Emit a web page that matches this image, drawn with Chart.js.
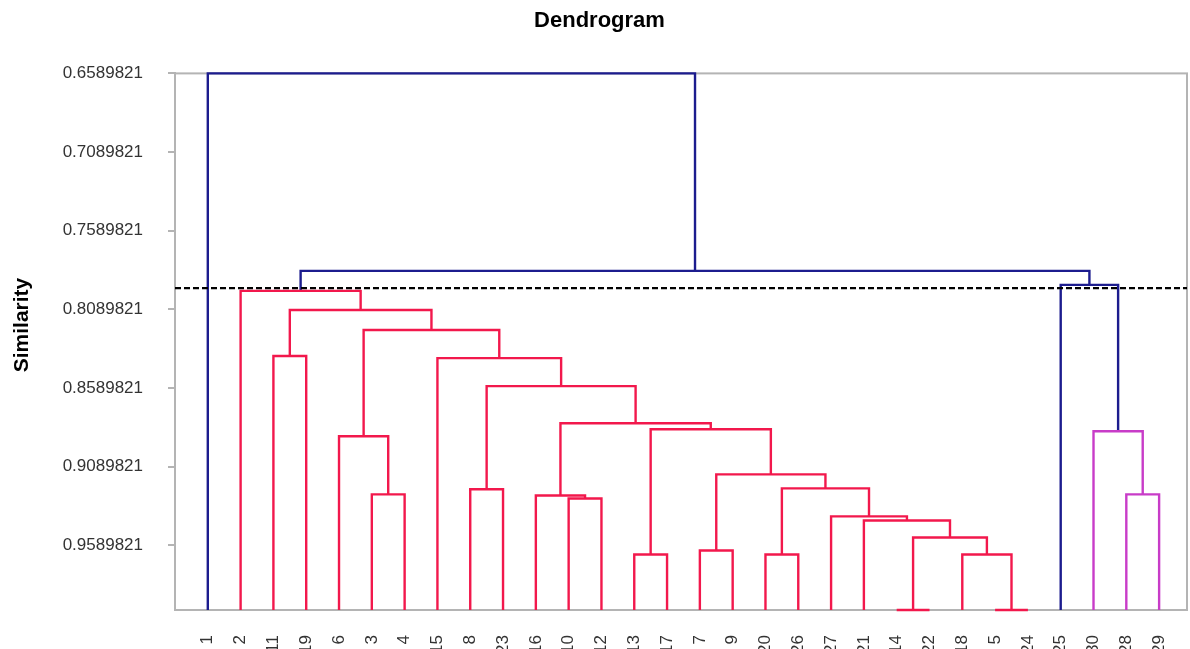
<!DOCTYPE html>
<html>
<head>
<meta charset="utf-8">
<script src="https://cdn.jsdelivr.net/npm/chart.js@4"></script>
<style>
	html, body { margin: 0; padding: 0; background: #fff; overflow: hidden; }
	canvas { display: block; }
</style>
</head>
<body>
<canvas id="dendroChart" width="1190" height="660"></canvas>
<script>
// leaves, left to right
var leafLabels = ['1','2','11','19','6','3','4','15','8','23','16','10','12','13','17',
	'7','9','20','26','27','21','14','22','18','5','24','25','30','28','29'];

// merges: [left, right, similarity], 'mN' = result of merge N
var merges = [
	['14','22',1.0],
	['5','24',1.0],
	['13','17',0.9647],
	['20','26',0.9647],
	['18','m1',0.9647],
	['7','9',0.9622],
	['m0','m4',0.9539],
	['21','m6',0.9431],
	['27','m7',0.9405],
	['10','12',0.9291],
	['16','m9',0.9272],
	['3','4',0.9265],
	['28','29',0.9265],
	['8','23',0.9233],
	['m3','m8',0.9227],
	['m5','m14',0.9138],
	['6','m11',0.8896],
	['30','m12',0.8864],
	['m2','m15',0.8851],
	['m10','m18',0.8813],
	['m13','m19',0.8577],
	['15','m20',0.8399],
	['11','19',0.8386],
	['m16','m21',0.8221],
	['m22','m23',0.8093],
	['2','m24',0.7972],
	['25','m17',0.7934],
	['m25','m26',0.7845],
	['1','m27',0.6589821]
];

var cutLevel = 0.7955;
var yTickValues = [0.6589821, 0.7089821, 0.7589821, 0.8089821, 0.8589821, 0.9089821, 0.9589821];
var yTickLabels = ['0.6589821','0.7089821','0.7589821','0.8089821','0.8589821','0.9089821','0.9589821'];

var navy = '#1c1c8e';
var clusterColors = ['#f2184c', '#c83cc8'];
var FONT = "'Liberation Sans', Arial, sans-serif";

// node positions
var pos = {};
leafLabels.forEach(function(l, i){ pos[l] = {x: i, y: 1.0}; });
merges.forEach(function(m, i){
	var a = pos[m[0]], b = pos[m[1]];
	pos['m' + i] = {x: (a.x + b.x) / 2, y: m[2]};
});

// colours: above the cut navy, each cluster below it gets its own colour
var linkColor = [];
var nextColor = 0;
var paint = function(node, color){
	if (node.charAt(0) !== 'm') return;
	var i = parseInt(node.slice(1));
	var m = merges[i];
	if (m[2] < cutLevel) {
		linkColor[i] = navy;
		paint(m[0], null);
		paint(m[1], null);
		return;
	}
	if (color === null) {
		color = clusterColors[nextColor % clusterColors.length];
		nextColor++;
	}
	linkColor[i] = color;
	paint(m[0], color);
	paint(m[1], color);
};
paint('m' + (merges.length - 1), null);

var datasets = [];
// cut line first so it is drawn on top
datasets.push({
	data: [{x: -1, y: cutLevel}, {x: 29.85, y: cutLevel}],
	borderColor: '#000',
	borderWidth: 2.2,
	borderDash: [6, 3]
});
merges.forEach(function(m, i){
	var a = pos[m[0]], b = pos[m[1]];
	datasets.push({
		data: [{x: a.x, y: a.y}, {x: a.x, y: m[2]}, {x: b.x, y: m[2]}, {x: b.x, y: b.y}],
		borderColor: linkColor[i],
		borderWidth: 2.4,
		clip: 4
	});
});

var framePlugin = {
	id: 'frame',
	beforeDatasetsDraw: function(chart){
		var a = chart.chartArea, c = chart.ctx;
		c.save();
		c.strokeStyle = '#b4b4b4';
		c.lineWidth = 2;
		c.strokeRect(a.left, a.top, a.right - a.left, a.bottom - a.top);
		c.restore();
	}
};

var sideLabel = {
	id: 'sideLabel',
	afterDraw: function(chart){
		var c = chart.ctx;
		c.save();
		c.translate(22, 325);
		c.rotate(-Math.PI / 2);
		c.font = "bold 21px " + FONT;
		c.fillStyle = '#000';
		c.textAlign = 'center';
		c.textBaseline = 'middle';
		c.fillText('Similarity', 0, 0);
		c.restore();
	}
};

window.addEventListener("load", function(){
	var ctx = document.getElementById('dendroChart');
	new Chart(ctx, {
		type: 'scatter',
		data: { datasets: datasets },
		plugins: [framePlugin, sideLabel],
		options: {
			responsive: false,
			animation: false,
			showLine: true,
			elements: { point: { radius: 0, hoverRadius: 0 }, line: { tension: 0 } },
			layout: { padding: { left: 12, right: 3, top: 0, bottom: 0 } },
			plugins: {
				legend: { display: false },
				tooltip: { enabled: false },
				title: {
					display: true,
					text: 'Dendrogram',
					color: '#000',
					font: { family: FONT, size: 22, weight: 'bold' },
					padding: { top: 8, bottom: 39 }
				}
			},
			scales: {
				x: {
					type: 'linear',
					min: -1,
					max: 29.85,
					afterBuildTicks: function(scale){
						scale.ticks = leafLabels.map(function(l, i){ return {value: i}; });
					},
					afterFit: function(scale){
						scale.height = 50;
						scale.paddingLeft = 0;
						scale.paddingRight = 0;
					},
					grid: { display: false, drawTicks: false },
					border: { display: true, color: '#b4b4b4', width: 2 },
					ticks: {
						autoSkip: false,
						minRotation: 90,
						maxRotation: 90,
						padding: 25,
						color: '#333',
						font: { family: FONT, size: 17 },
						callback: function(v, i){ return leafLabels[i]; }
					}
				},
				y: {
					type: 'linear',
					reverse: true,
					min: 0.6589821,
					max: 1.0,
					afterBuildTicks: function(scale){
						scale.ticks = yTickValues.map(function(v){ return {value: v}; });
					},
					afterFit: function(scale){
						scale.width = 163;
						scale.paddingTop = 0;
						scale.paddingBottom = 0;
					},
					grid: { drawOnChartArea: false, drawTicks: true, tickLength: 7, color: '#b4b4b4', lineWidth: 2 },
					border: { display: true, color: '#b4b4b4', width: 2 },
					ticks: {
						padding: 25,
						color: '#333',
						font: { family: FONT, size: 17 },
						callback: function(v, i){ return yTickLabels[i]; }
					}
				}
			}
		}
	});
});
</script>
</body>
</html>
